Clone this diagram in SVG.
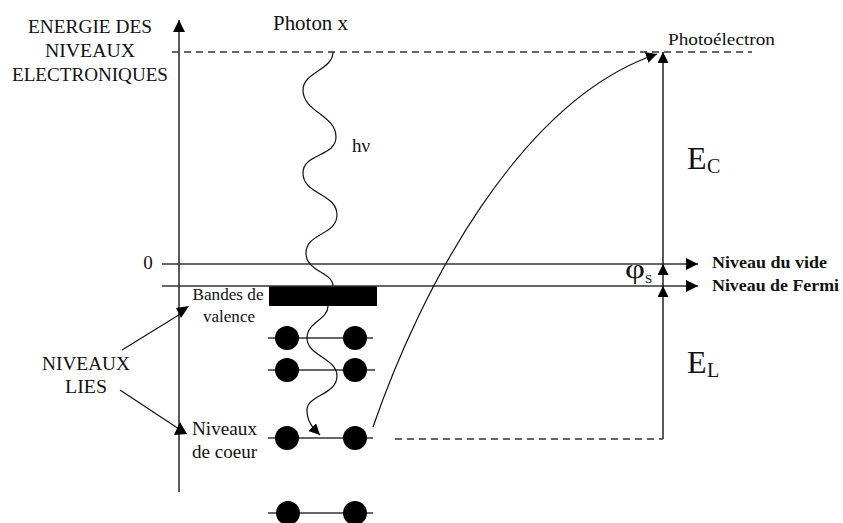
<svg xmlns="http://www.w3.org/2000/svg" width="843" height="523" viewBox="0 0 843 523" font-family="'Liberation Serif', 'Times New Roman', serif">
<defs>
<style>
text{font-family:'Liberation Serif','Times New Roman',serif;fill:#111}
.ln{stroke:#222;stroke-width:1.5;fill:none}
.hl{stroke:#333;stroke-width:1.5;fill:none}
.dash{stroke:#333;stroke-width:1.4;stroke-dasharray:7 5;fill:none}
.thin{stroke:#111;stroke-width:1.2;fill:none}
.dot{fill:#000}
.b{font-weight:bold}
</style>
<marker id="arr" markerUnits="userSpaceOnUse" markerWidth="13" markerHeight="13" refX="12" refY="6" orient="auto" viewBox="0 0 13 13">
<path d="M0,0 L12,6 L0,12 z" fill="#000"/>
</marker>
<marker id="arrs" markerUnits="userSpaceOnUse" markerWidth="13" markerHeight="13" refX="11" refY="5.5" orient="auto" viewBox="0 0 13 13">
<path d="M0,0 L11,5.5 L0,11 z" fill="#000"/>
</marker>
</defs>
<rect width="843" height="523" fill="#fff"/>

<g id="labels-left">
<text x="90" y="33" font-size="19" text-anchor="middle" textLength="124" lengthAdjust="spacingAndGlyphs">ENERGIE DES</text>
<text x="90" y="57" font-size="19" text-anchor="middle" textLength="90" lengthAdjust="spacingAndGlyphs">NIVEAUX</text>
<text x="90" y="81" font-size="19" text-anchor="middle" textLength="156" lengthAdjust="spacingAndGlyphs">ELECTRONIQUES</text>
<text x="148" y="269" font-size="19" text-anchor="middle">0</text>
</g>

<g id="photon-label">
<text x="273" y="30" font-size="21" textLength="75" lengthAdjust="spacingAndGlyphs">Photon x</text>
<text x="352" y="152" font-size="19">hν</text>
</g>

<g id="photoelectron-label">
<text x="668" y="45" font-size="17" textLength="107" lengthAdjust="spacingAndGlyphs">Photoélectron</text>
</g>

<g id="niveaux-lies">
<text x="86" y="370" font-size="19" text-anchor="middle" textLength="88" lengthAdjust="spacingAndGlyphs">NIVEAUX</text>
<text x="86" y="393" font-size="19" text-anchor="middle" textLength="42" lengthAdjust="spacingAndGlyphs">LIES</text>
</g>

<g id="bandes-valence">
<rect x="269" y="286" width="108" height="20" fill="#000"/>
<text x="228" y="300" font-size="17" text-anchor="middle" textLength="71" lengthAdjust="spacingAndGlyphs">Bandes de</text>
<text x="229" y="322" font-size="17" text-anchor="middle" textLength="52" lengthAdjust="spacingAndGlyphs">valence</text>
</g>

<g id="niveaux-coeur">
<text x="192" y="435" font-size="19" textLength="65" lengthAdjust="spacingAndGlyphs">Niveaux</text>
<text x="192" y="458" font-size="19" textLength="65" lengthAdjust="spacingAndGlyphs">de coeur</text>
</g>

<g id="levels">
<line class="hl" x1="268" y1="338" x2="373" y2="338"/>
<circle class="dot" cx="287" cy="338" r="12"/>
<circle class="dot" cx="355" cy="338" r="12"/>
<line class="hl" x1="268" y1="370" x2="375" y2="370"/>
<circle class="dot" cx="287" cy="370" r="12"/>
<circle class="dot" cx="355" cy="370" r="12"/>
<line class="hl" x1="268" y1="438" x2="373" y2="438"/>
<circle class="dot" cx="287" cy="438" r="12"/>
<circle class="dot" cx="355" cy="438" r="12"/>
<line class="hl" x1="268" y1="513" x2="373" y2="513"/>
<circle class="dot" cx="288" cy="513" r="12"/>
<circle class="dot" cx="355" cy="513" r="12"/>
</g>

<g id="level-labels">
<text class="b" x="712" y="268" font-size="17" textLength="115" lengthAdjust="spacingAndGlyphs">Niveau du vide</text>
<text class="b" x="712" y="291" font-size="17" textLength="127" lengthAdjust="spacingAndGlyphs">Niveau de Fermi</text>
<text x="625" y="278" font-size="28" textLength="20" lengthAdjust="spacingAndGlyphs">φ</text>
<text x="645" y="283" font-size="13">S</text>
<text x="687" y="169" font-size="32">E</text>
<text x="707" y="173" font-size="20">C</text>
<text x="687" y="373" font-size="32">E</text>
<text x="707" y="377" font-size="20">L</text>
</g>

<g id="connectors">
<line class="ln" x1="179" y1="492" x2="179" y2="20" marker-end="url(#arr)"/>
<line class="dash" x1="172" y1="52" x2="752" y2="52"/>
<line class="dash" x1="395" y1="439" x2="663" y2="439"/>
<line class="hl" x1="162" y1="264" x2="698" y2="264" marker-end="url(#arr)"/>
<line class="hl" x1="162" y1="286" x2="698" y2="286" marker-end="url(#arr)"/>
<line class="ln" x1="663" y1="439" x2="663" y2="286" marker-end="url(#arrs)"/>
<line class="ln" x1="663" y1="286" x2="663" y2="264" marker-end="url(#arrs)"/>
<line class="ln" x1="663" y1="264" x2="663" y2="52" marker-end="url(#arrs)"/>
<path class="thin" d="M373,427 C420,290 520,100 657,54" marker-end="url(#arrs)"/>
<path class="thin" d="M333,52 C333,70 303,72 303,90 C303,112 336,115 336,137 C336,157 303,153 303,173 C303,195 337,193 337,215 C337,235 306,233 306,253 C306,272 333,272 333,286"/>
<path class="thin" d="M328,306 C328,320 307,322 307,338 C307,356 337,358 337,376 C337,395 307,395 307,410 C307,422 313,428 320,435" marker-end="url(#arrs)"/>
<line class="thin" x1="122" y1="350" x2="182" y2="313"/>
<polygon points="176,308 189,306 181,318" fill="#000"/>
<line class="thin" x1="120" y1="390" x2="179" y2="429"/>
<polygon points="180,422 174,435 187,434" fill="#000"/>
</g>
</svg>
